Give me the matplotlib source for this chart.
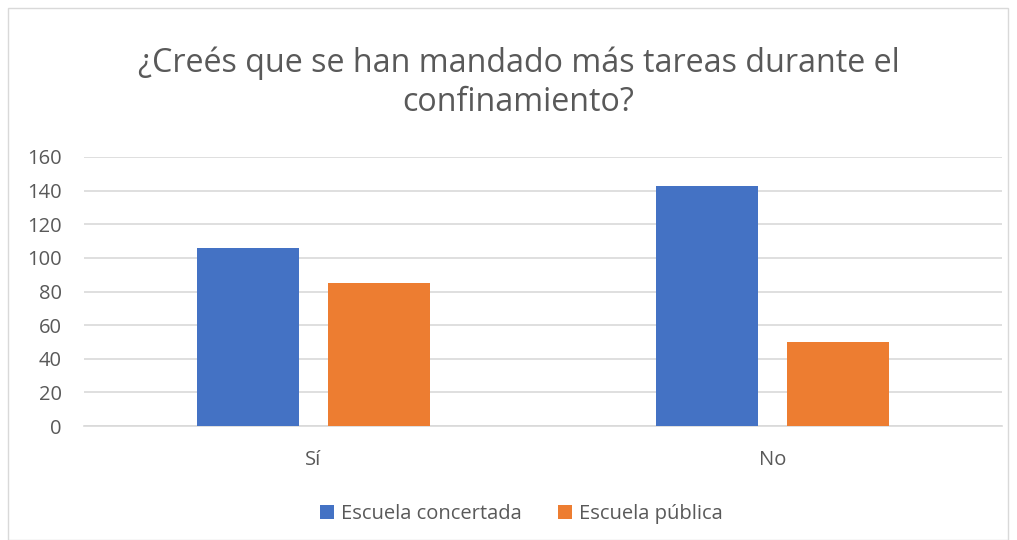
import matplotlib
matplotlib.use("Agg")
import matplotlib.pyplot as plt
import numpy as np
from matplotlib.patches import Rectangle

categories = ["Sí", "No"]
series_names = ["Escuela concertada", "Escuela pública"]
concertada = [106, 143]
publica = [85, 50]
yticks = [0, 20, 40, 60, 80, 100, 120, 140, 160]
title = "¿Creés que se han mandado más tareas durante el\nconfinamiento?"

colors = ["#4472C4", "#ED7D31"]
text_color = "#595959"
plt.rcParams['font.family'] = ['Open Sans', 'DejaVu Sans']

W, H = 1017, 540
fig = plt.figure(figsize=(W / 100, H / 100), dpi=100)
ax = fig.add_axes([84 / W, 1 - 426 / H, (1002 - 84) / W, (426 - 157) / H])

x = np.arange(len(categories))
bw = 0.222
off = 0.143
ax.bar(x - off, concertada, bw, color=colors[0], label=series_names[0], zorder=3)
ax.bar(x + off, publica, bw, color=colors[1], label=series_names[1], zorder=3)

ax.set_xlim(-0.5, 1.5)
ax.set_ylim(0, 160)
ax.set_yticks(yticks)
ax.set_xticks(x)
ax.set_xticklabels(categories)
ax.yaxis.grid(True, color="#D9D9D9", linewidth=1.2, zorder=0)
ax.xaxis.grid(False)
for s in ["top", "right", "left"]:
    ax.spines[s].set_visible(False)
ax.spines["bottom"].set_color("#D9D9D9")
ax.spines["bottom"].set_linewidth(1.2)
ax.tick_params(axis="both", length=0, colors=text_color, labelsize=14.5)
ax.tick_params(axis="y", pad=16)
ax.tick_params(axis="x", pad=17)

fig.text(0.5 + 10 / W, 1 - 83 / H, title, ha="center", va="center", fontsize=23.2,
         color=text_color, linespacing=1.25)

leg = fig.legend(loc="center", bbox_to_anchor=(0.5 + 13 / W, 1 - 514 / H), ncol=2, frameon=False,
                 fontsize=14.5, handlelength=0.7, handleheight=0.7, handletextpad=0.35,
                 columnspacing=1.8, labelcolor=text_color)

fig.patches.append(Rectangle((8 / W, 0), (1008 - 8) / W, 1 - 8 / H, transform=fig.transFigure,
                             fill=False, edgecolor="#D9D9D9", linewidth=1))

fig.savefig("out.png", dpi=100)
